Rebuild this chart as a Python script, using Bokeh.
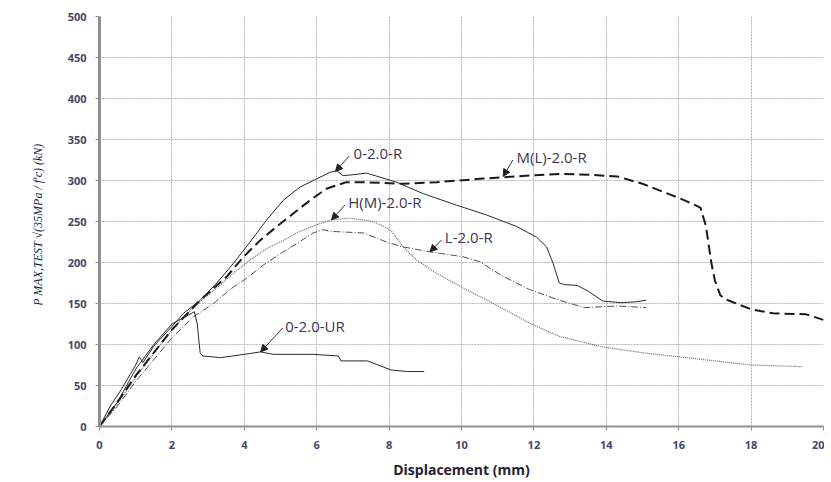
from bokeh.plotting import figure
from bokeh.models import Range1d, FixedTicker, Label, Arrow, NormalHead
from bokeh.embed import file_html
from bokeh.resources import INLINE

# ---- data (displacement mm, load kN) ----
r0_x = [0, 0.3, 0.6, 1.0, 1.1, 1.2, 1.5, 2.0, 2.32, 2.78, 3.24, 3.7, 4.16, 4.62, 5.08, 5.54, 6.0, 6.37, 6.55, 6.73, 7.0, 7.38, 8.2, 8.94, 9.86, 10.69, 11.52, 12.07, 12.35, 12.53, 12.7, 12.85, 13.2, 13.5, 13.9, 14.4, 14.8, 15.1]
r0_y = [0, 25, 45, 75, 85, 78, 98, 122, 138, 154, 175, 199, 225, 252, 276, 292, 302, 310, 312, 306, 307, 309, 298, 284, 270, 258, 244, 231, 219, 199, 175, 173, 172, 165, 153, 151, 152, 154]

ml_x = [0, 0.5, 1.0, 2.0, 2.78, 3.52, 3.98, 4.44, 4.9, 5.36, 5.82, 6.27, 6.82, 7.29, 8.39, 9.31, 10.5, 11.88, 12.7, 13.5, 14.3, 15.0, 16.1, 16.6, 16.75, 16.9, 17.0, 17.15, 17.3, 18.0, 18.6, 19.5, 20.0]
ml_y = [0, 30, 62, 118, 154, 183, 207, 227, 244, 260, 276, 290, 298, 298, 296, 298, 302, 306, 308, 307, 305, 296, 277, 267, 245, 200, 178, 160, 155, 143, 138, 137, 130]

hm_x = [0, 0.5, 1.0, 2.0, 2.6, 3.24, 3.7, 4.16, 4.62, 5.08, 5.54, 6.0, 6.41, 6.92, 7.56, 8.03, 8.39, 8.76, 9.31, 10.04, 10.97, 11.88, 12.7, 13.9, 15.0, 16.0, 17.0, 18.0, 19.4]
hm_y = [0, 28, 60, 118, 146, 169, 187, 203, 217, 227, 238, 246, 252, 254, 250, 240, 219, 203, 187, 169, 148, 126, 110, 97, 90, 85, 80, 75, 73]

l_x = [0, 0.5, 1.0, 2.0, 2.6, 3.15, 3.6, 4.07, 4.53, 5.0, 5.45, 5.9, 6.18, 6.37, 7.29, 7.93, 8.39, 9.13, 10.04, 10.5, 11.15, 11.88, 12.7, 13.4, 14.3, 15.1]
l_y = [0, 25, 55, 108, 134, 150, 167, 181, 197, 211, 223, 236, 240, 238, 236, 225, 219, 213, 207, 201, 183, 167, 154, 145, 147, 145]

ur_x = [0, 0.5, 1.0, 1.5, 2.0, 2.5, 2.62, 2.7, 2.78, 2.85, 3.35, 4.0, 4.45, 4.8, 5.9, 6.6, 6.67, 7.4, 8.05, 8.5, 8.97]
ur_y = [0, 30, 70, 100, 125, 137, 140, 125, 90, 86, 84, 88, 91, 88, 88, 86, 80, 80, 69, 67, 67]

x_ticks = list(range(0, 21, 2))
y_ticks = list(range(0, 501, 50))

# annotations: text, text position (left, middle), arrow start, arrow tip
ann_text = ["0-2.0-R", "M(L)-2.0-R", "H(M)-2.0-R", "L-2.0-R", "0-2.0-UR"]
ann_tx = [7.02, 11.52, 6.87, 9.54, 5.13]
ann_ty = [334, 329, 274, 231, 123]
ann_sx = [6.9, 11.42, 6.78, 9.45, 5.06]
ann_sy = [330, 325, 270, 227.5, 120]
ann_ex = [6.52, 11.15, 6.41, 9.13, 4.45]
ann_ey = [311, 305, 252, 213, 91]

FONT = "Open Sans"
TXT = "#3b3550"

p = figure(width=824, height=481, output_backend="svg", toolbar_location=None,
           x_range=Range1d(0, 20), y_range=Range1d(0, 500),
           min_border_left=99, min_border_right=1, min_border_top=16, min_border_bottom=53)
p.outline_line_color = None
p.background_fill_color = "white"
p.border_fill_color = "white"

for ax in (p.xaxis[0], p.yaxis[0]):
    ax.major_label_text_font = FONT
    ax.major_label_text_font_size = "11px"
    ax.major_label_text_font_style = "bold"
    ax.major_label_text_color = "#45456a"
    ax.axis_line_color = "#909090"
    ax.major_tick_line_color = "#909090"
    ax.major_tick_in = 0
    ax.major_tick_out = 4
    ax.minor_tick_line_color = None

p.xaxis.ticker = FixedTicker(ticks=x_ticks)
p.yaxis.ticker = FixedTicker(ticks=y_ticks)
p.yaxis.axis_line_width = 3
p.xaxis.axis_line_width = 2
p.xaxis.major_label_standoff = 10
p.yaxis.major_label_standoff = 9

p.xaxis.axis_label = "Displacement (mm)"
p.xaxis.axis_label_text_font = FONT
p.xaxis.axis_label_text_font_style = "bold"
p.xaxis.axis_label_text_font_size = "14px"
p.xaxis.axis_label_text_color = "#222233"
p.xaxis.axis_label_standoff = 8

p.yaxis.axis_label = "P MAX,TEST √(35MPa / f′c)   (kN)"
p.yaxis.axis_label_text_font = "Liberation Serif"
p.yaxis.axis_label_text_font_style = "italic"
p.yaxis.axis_label_text_font_size = "12px"
p.yaxis.axis_label_text_color = "#222233"
p.yaxis.axis_label_standoff = 20

p.xgrid.grid_line_color = "#b4b4b4"
p.ygrid.grid_line_color = "#b4b4b4"
p.xgrid.grid_line_dash = "2 1"
p.ygrid.grid_line_dash = "2 1"
p.xgrid.grid_line_width = 1
p.ygrid.grid_line_width = 1

p.line(hm_x, hm_y, line_color="#6a6a6a", line_width=1.2, line_dash="1 1")
p.line(l_x, l_y, line_color="#505050", line_width=1, line_dash="7 2 1 2")
p.line(ml_x, ml_y, line_color="#1a1a1a", line_width=2, line_dash="10 5")
p.line(r0_x, r0_y, line_color="#2a2a2a", line_width=1)
p.line(ur_x, ur_y, line_color="#2a2a2a", line_width=1)

for t, tx, ty, sx, sy, ex, ey in zip(ann_text, ann_tx, ann_ty, ann_sx, ann_sy, ann_ex, ann_ey):
    p.add_layout(Label(x=tx, y=ty, text=t, text_font=FONT, text_font_size="15px",
                       text_color=TXT, text_baseline="middle"))
    p.add_layout(Arrow(x_start=sx, y_start=sy, x_end=ex, y_end=ey,
                       line_color="#333333", line_width=1,
                       end=NormalHead(size=7, fill_color="#222222", line_color="#222222")))

open("out.html", "w").write(file_html(p, INLINE))
